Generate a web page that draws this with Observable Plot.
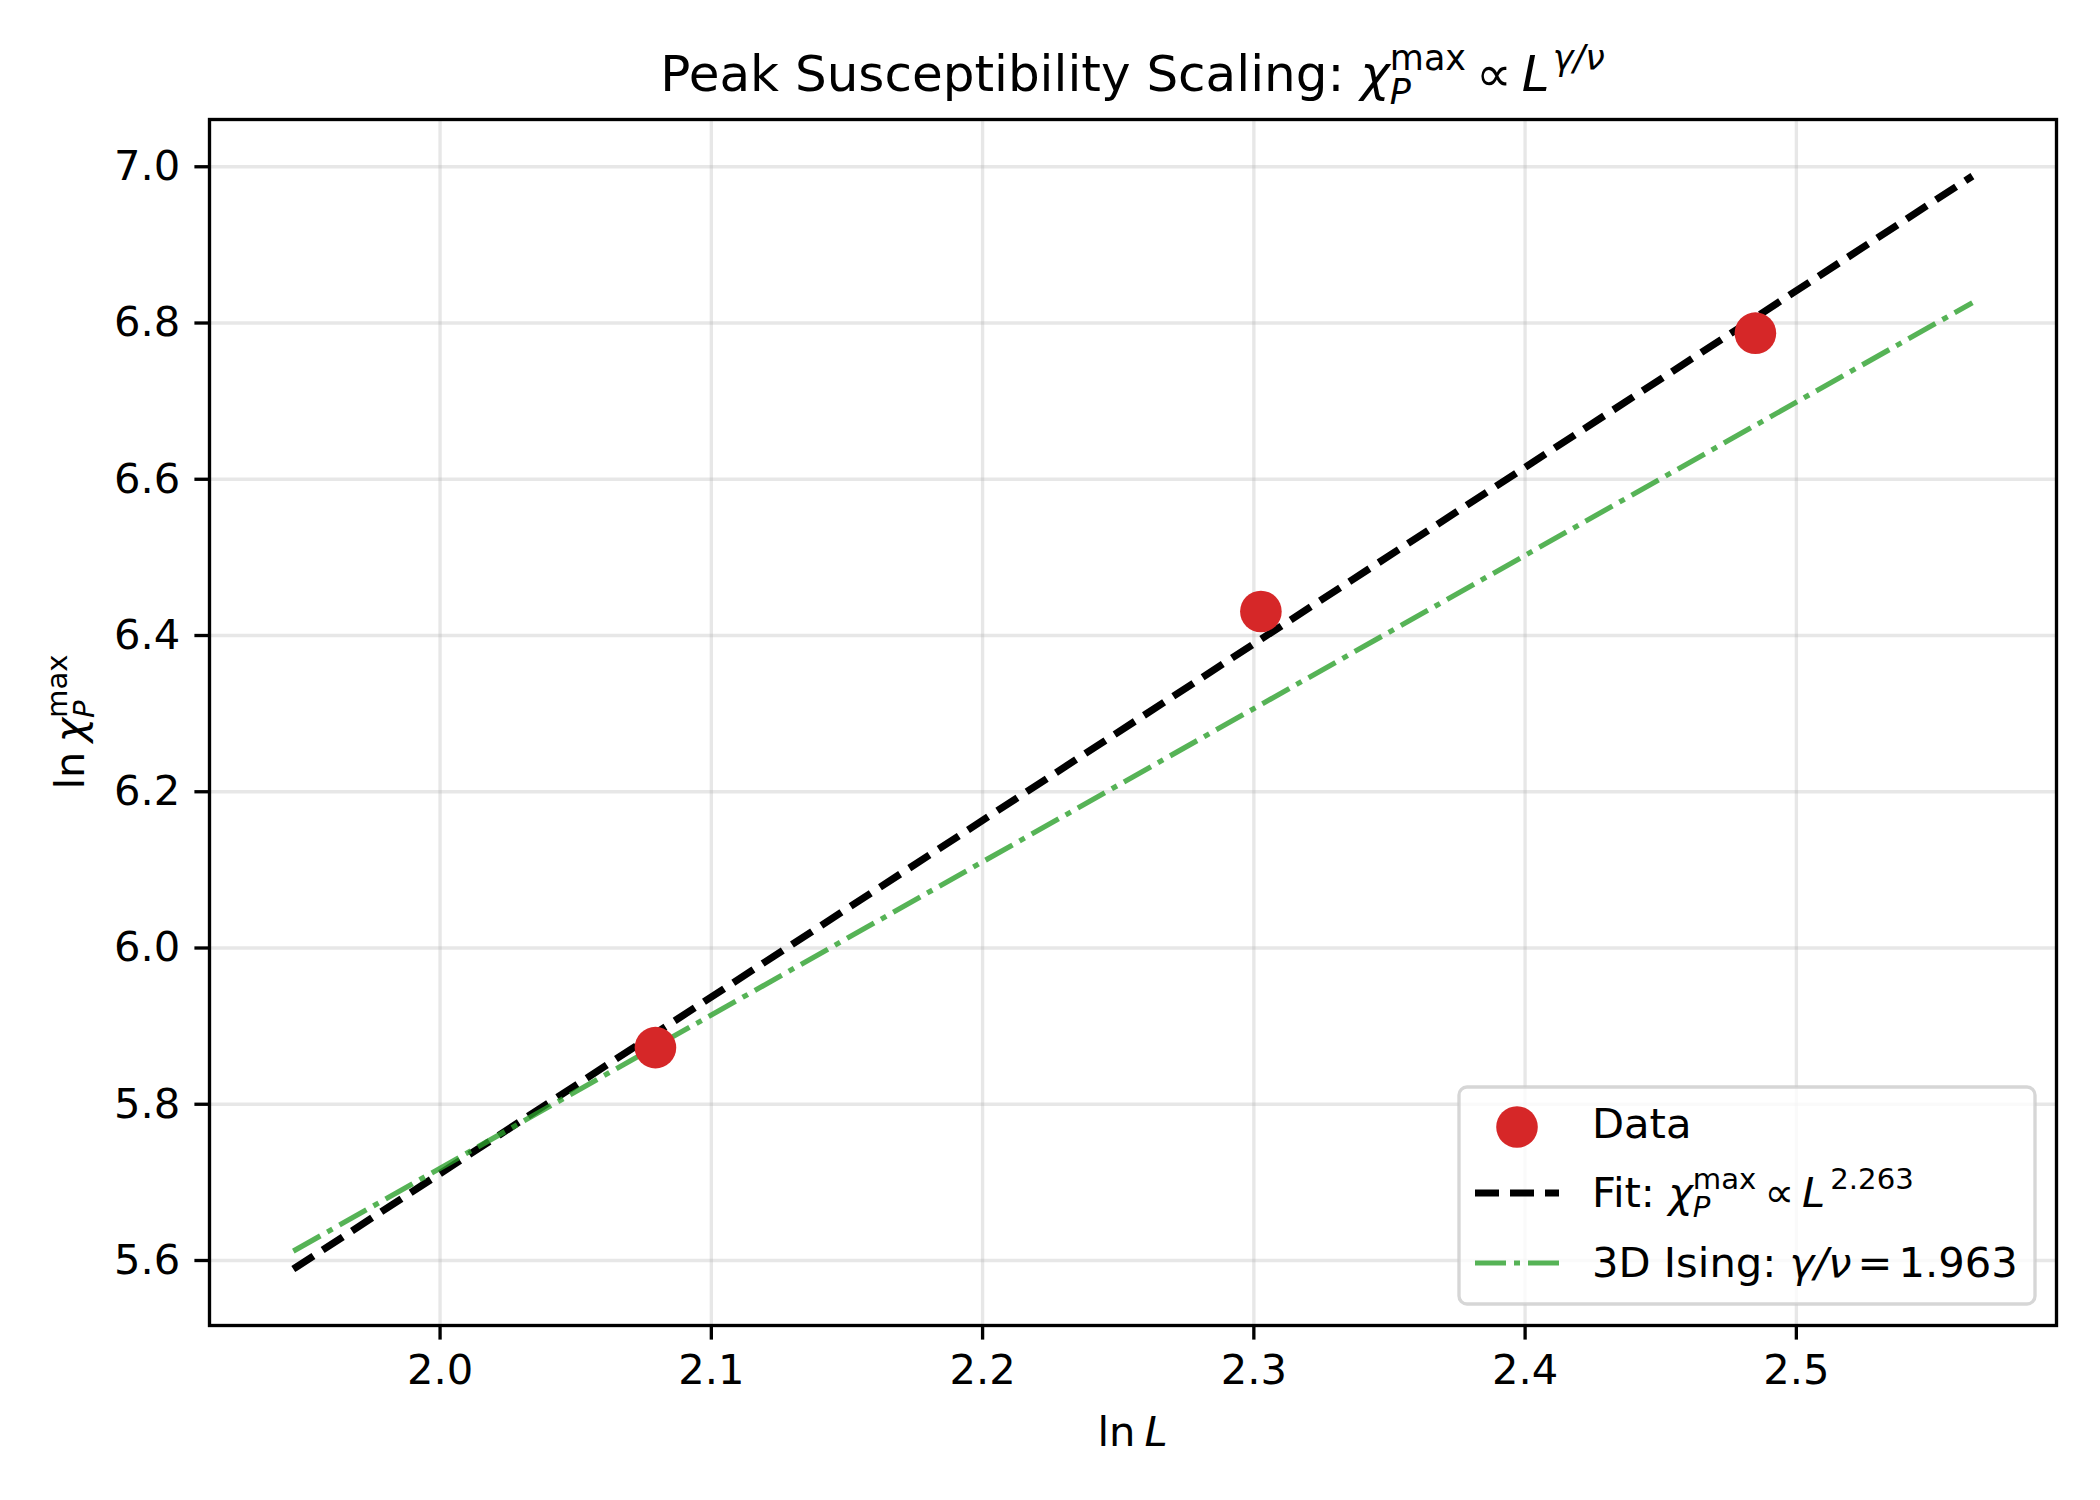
<!DOCTYPE html>
<html><head><meta charset="utf-8">
<script src="https://cdn.jsdelivr.net/npm/d3@7"></script>
<script src="https://cdn.jsdelivr.net/npm/@observablehq/plot@0.6"></script>
<style>html,body{margin:0;padding:0;background:#fff;} svg{display:block;}</style>
</head><body><div id="chart"></div>
<script>
// ---- data ----
const lnL = [2.0794, 2.3026, 2.4849];
const lnChiMax = [5.8725, 6.4307, 6.787];
const lineLnL = [1.9459, 2.5649];
const fitLnChi = [5.589, 6.988];
const isingLnChi = [5.612, 6.826];
const xTicks = [2.0, 2.1, 2.2, 2.3, 2.4, 2.5];
const yTicks = [5.6, 5.8, 6.0, 6.2, 6.4, 6.6, 6.8, 7.0];
const xDomain = [1.9150, 2.5959];
const yDomain = [5.5168, 7.0605];
const fitExponent = "2.263";
const isingExponent = "1.963";

const points = lnL.map((x, i) => ({x, y: lnChiMax[i]}));
const fit = lineLnL.map((x, i) => ({x, y: fitLnChi[i]}));
const ising = lineLnL.map((x, i) => ({x, y: isingLnChi[i]}));

const W = 2100, H = 1500, mL = 209, mR = 44, mT = 119, mB = 175;
const FS = 41.67;
const RED = "#d62728", GREEN = "#2ca02c";
const DASH = "24,11", DASHDOT = "31,8,6,8";
const BLACK_W = 7.2, GREEN_W = 5.2;

const plot = Plot.plot({
  width: W, height: H,
  marginLeft: mL, marginRight: mR, marginTop: mT, marginBottom: mB,
  style: {fontFamily: "'DejaVu Sans'", fontSize: FS + "px", background: "white", color: "black", overflow: "visible"},
  x: {domain: xDomain},
  y: {domain: yDomain},
  marks: [
    Plot.gridX(xTicks, {stroke: "#b0b0b0", strokeOpacity: 0.3, strokeWidth: 3.33}),
    Plot.gridY(yTicks, {stroke: "#b0b0b0", strokeOpacity: 0.3, strokeWidth: 3.33}),
    Plot.line(fit, {x: "x", y: "y", stroke: "black", strokeWidth: BLACK_W, strokeDasharray: DASH, strokeLinecap: "butt"}),
    Plot.line(ising, {x: "x", y: "y", stroke: GREEN, strokeOpacity: 0.8, strokeWidth: GREEN_W, strokeDasharray: DASHDOT, strokeLinecap: "butt"}),
    Plot.dot(points, {x: "x", y: "y", r: 20.8, fill: RED}),
    Plot.frame({stroke: "black", strokeWidth: 3.33}),
    Plot.axisX({ticks: xTicks, tickSize: 14.6, tickPadding: 14.6, strokeWidth: 3.33, tickFormat: d => d.toFixed(1), label: null, fontSize: FS}),
    Plot.axisY({ticks: yTicks, tickSize: 14.6, tickPadding: 14.6, strokeWidth: 3.33, tickFormat: d => d.toFixed(1), label: null, fontSize: FS})
  ]
});
document.getElementById("chart").appendChild(plot);

const svg = d3.select(plot);

function rich(x, y, size, parts, anchor, rotate) {
  const t = svg.append("text")
    .attr("font-family", "DejaVu Sans")
    .attr("font-size", size)
    .attr("fill", "black")
    .attr("text-anchor", anchor)
    .style("white-space", "pre");
  if (rotate) t.attr("transform", `translate(${x},${y}) rotate(-90)`);
  else t.attr("x", x).attr("y", y);
  let shift = 0, prev = null;
  parts.forEach(p => {
    const ts = t.append("tspan").text(p.t);
    ts.attr("font-size", size * (p.s || 1));
    if (p.it) ts.attr("font-style", "italic");
    const target = (p.sh || 0) * size;
    if (target !== shift) { ts.attr("dy", target - shift); shift = target; }
    let dx = p.dx || 0;
    if (p.stack && prev) dx -= prev.getComputedTextLength();
    if (dx) ts.attr("dx", dx);
    prev = ts.node();
  });
  return t;
}

const cx = (mL + (W - mR)) / 2;
// Title
rich(cx, 91, 50, [
  {t: "Peak Susceptibility Scaling: "},
  {t: "χ", it: 1},
  {t: "P", it: 1, s: 0.7, sh: 0.25},
  {t: "max", s: 0.7, sh: -0.42, stack: 1},
  {t: "∝", dx: 10},
  {t: "L", it: 1, dx: 10},
  {t: "γ/ν", it: 1, s: 0.7, sh: -0.42, dx: 3}
], "middle");

// x label
rich(cx, 1446, FS, [{t: "ln"}, {t: "L", it: 1, dx: 9}], "middle");
// y label
rich(84, (mT + (H - mB)) / 2, FS, [
  {t: "ln"},
  {t: "χ", it: 1, dx: 9},
  {t: "P", it: 1, s: 0.7, sh: 0.25},
  {t: "max", s: 0.7, sh: -0.42, stack: 1}
], "middle", true);

// Legend
const lg = svg.append("g");
lg.append("rect").attr("x", 1459).attr("y", 1087).attr("width", 576).attr("height", 217)
  .attr("rx", 8).attr("fill", "white").attr("fill-opacity", 0.8)
  .attr("stroke", "#cccccc").attr("stroke-opacity", 0.8).attr("stroke-width", 3.33);
lg.append("circle").attr("cx", 1517).attr("cy", 1127).attr("r", 20.8).attr("fill", RED);
lg.append("line").attr("x1", 1475).attr("x2", 1559).attr("y1", 1193).attr("y2", 1193)
  .attr("stroke", "black").attr("stroke-width", BLACK_W).attr("stroke-dasharray", DASH);
lg.append("line").attr("x1", 1475).attr("x2", 1559).attr("y1", 1263).attr("y2", 1263)
  .attr("stroke", GREEN).attr("stroke-opacity", 0.8).attr("stroke-width", GREEN_W).attr("stroke-dasharray", DASHDOT);
rich(1592, 1138, FS, [{t: "Data"}], "start");
rich(1592, 1207, FS, [
  {t: "Fit: "},
  {t: "χ", it: 1},
  {t: "P", it: 1, s: 0.7, sh: 0.25},
  {t: "max", s: 0.7, sh: -0.42, stack: 1},
  {t: "∝", dx: 8},
  {t: "L", it: 1, dx: 8},
  {t: fitExponent, s: 0.7, sh: -0.42, dx: 5}
], "start");
rich(1592, 1277, FS, [
  {t: "3D Ising: "},
  {t: "γ/ν", it: 1},
  {t: "=", dx: 6},
  {t: isingExponent, dx: 6}
], "start");
</script>
</body></html>
